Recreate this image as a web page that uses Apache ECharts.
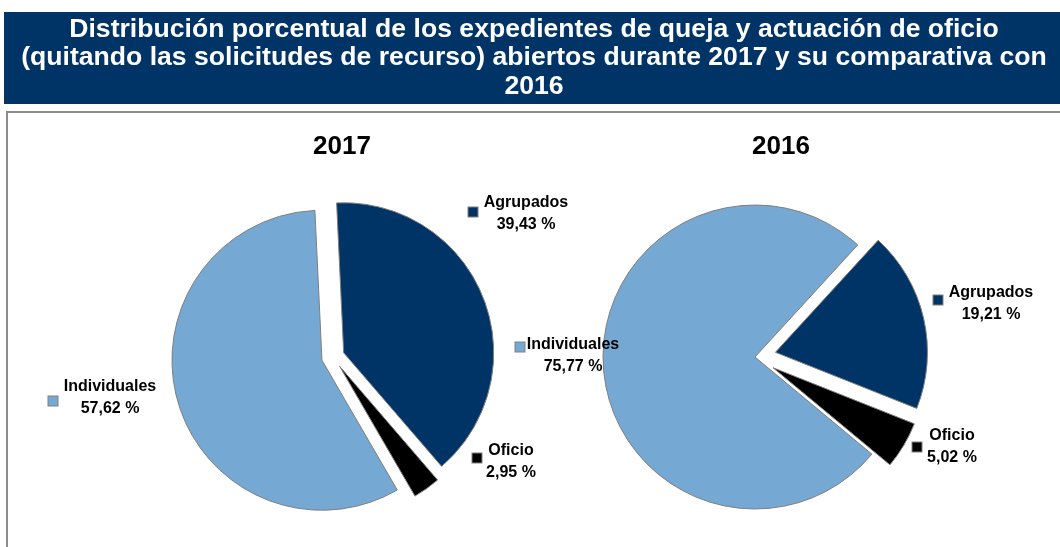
<!DOCTYPE html>
<html>
<head>
<meta charset="utf-8">
<script src="https://cdn.jsdelivr.net/npm/echarts@6/dist/echarts.min.js"></script>
<style>
html,body{margin:0;padding:0;background:#fff;}
#chart{width:1060px;height:547px;}
</style>
</head>
<body>
<div id="chart"></div>
<script>
// ---- data ----
const titleLines = [
  'Distribución porcentual de los expedientes de queja y actuación de oficio',
  '(quitando las solicitudes de recurso) abiertos durante 2017 y su comparativa con',
  '2016'
];
const years = ['2017', '2016'];
const categories = ['Agrupados', 'Oficio', 'Individuales'];
const values2017 = [39.43, 2.95, 57.62];
const values2016 = [19.21, 5.02, 75.77];
const exploded2017 = [true, true, true];
const exploded2016 = [true, true, false];

// ---- style / layout ----
const colors = ['#003366', '#000000', '#76A8D4'];
const FONT = "'Liberation Sans', Arial, sans-serif";
const pies = [
  { center: [333, 357], radius: 150, startAngle: 92.7, offset: 11.5 },
  { center: [755, 357], radius: 152, startAngle: 47.5, offset: 21 }
];
// label text block centres (per pie, per category index)
const textPos = [
  [[526, 214], [511, 462], [110, 398]],
  [[991, 304], [952, 447], [573, 356]]
];
// legend-key marker centres
const keyPos = [
  [[473, 212], [477, 458], [53, 401]],
  [[938, 300], [917, 447], [520, 347]]
];

function fmt(v) { return v.toFixed(2).replace('.', ',') + ' %'; }

function buildData(vals, exp) {
  return categories.map((c, i) => ({
    name: c, value: vals[i], selected: exp[i],
    itemStyle: { color: colors[i] }
  }));
}

const datasets = [buildData(values2017, exploded2017), buildData(values2016, exploded2016)];

const keyRich = {};
colors.forEach((c, i) => {
  keyRich['k' + i] = { width: 9, height: 9, backgroundColor: c, borderColor: '#808080', borderWidth: 1 };
});

const series = [];
pies.forEach((p, pi) => {
  // visible slices
  series.push({
    type: 'pie',
    center: p.center,
    radius: p.radius,
    startAngle: p.startAngle,
    clockwise: true,
    selectedMode: 'multiple',
    selectedOffset: p.offset,
    avoidLabelOverlap: false,
    animation: false,
    emphasis: { disabled: true },
    itemStyle: { borderColor: '#7f7f7f', borderWidth: 1 },
    labelLine: { show: false },
    label: { show: false },
    data: datasets[pi]
  });
  // invisible twin carrying the data-label texts
  series.push({
    type: 'pie',
    center: p.center,
    radius: p.radius,
    startAngle: p.startAngle,
    silent: true,
    animation: false,
    avoidLabelOverlap: false,
    itemStyle: { color: 'rgba(0,0,0,0)', borderWidth: 0 },
    labelLine: { show: false },
    label: {
      show: true,
      formatter: (prm) => prm.name + '\n' + fmt(prm.value),
      fontFamily: FONT, fontWeight: 'bold', fontSize: 16, color: '#000',
      lineHeight: 22, align: 'center'
    },
    labelLayout: (prm) => ({
      x: textPos[pi][prm.dataIndex][0],
      y: textPos[pi][prm.dataIndex][1],
      align: 'center', verticalAlign: 'middle'
    }),
    data: datasets[pi].map(d => ({ name: d.name, value: d.value }))
  });
  // invisible twin carrying the legend-key markers of the data labels
  series.push({
    type: 'pie',
    center: p.center,
    radius: p.radius,
    startAngle: p.startAngle,
    silent: true,
    animation: false,
    avoidLabelOverlap: false,
    itemStyle: { color: 'rgba(0,0,0,0)', borderWidth: 0 },
    labelLine: { show: false },
    label: {
      show: true,
      formatter: (prm) => '{k' + prm.dataIndex + '| }',
      rich: keyRich
    },
    labelLayout: (prm) => ({
      x: keyPos[pi][prm.dataIndex][0],
      y: keyPos[pi][prm.dataIndex][1],
      align: 'center', verticalAlign: 'middle'
    }),
    data: datasets[pi].map(d => ({ name: d.name, value: d.value }))
  });
});

const chart = echarts.init(document.getElementById('chart'), null, { renderer: 'canvas' });
chart.setOption({
  animation: false,
  backgroundColor: '#ffffff',
  graphic: [
    { type: 'rect', shape: { x: 4, y: 12, width: 1060, height: 92 }, style: { fill: '#003366' }, z: 0 },
    { type: 'text', x: 534, y: 58, z: 1,
      style: { text: titleLines.join('\n'), fill: '#ffffff', align: 'center', verticalAlign: 'middle',
               fontFamily: FONT, fontWeight: 'bold', fontSize: 26.6, lineHeight: 28.5 } },
    { type: 'rect', shape: { x: 7, y: 112, width: 1070, height: 450 },
      style: { fill: 'none', stroke: '#8c8c8c', lineWidth: 2 }, z: 0 },
    { type: 'text', x: 342, y: 147, z: 1,
      style: { text: years[0], fill: '#000', align: 'center', verticalAlign: 'middle',
               fontFamily: FONT, fontWeight: 'bold', fontSize: 26 } },
    { type: 'text', x: 781, y: 147, z: 1,
      style: { text: years[1], fill: '#000', align: 'center', verticalAlign: 'middle',
               fontFamily: FONT, fontWeight: 'bold', fontSize: 26 } }
  ],
  series: series
});
</script>
</body>
</html>
